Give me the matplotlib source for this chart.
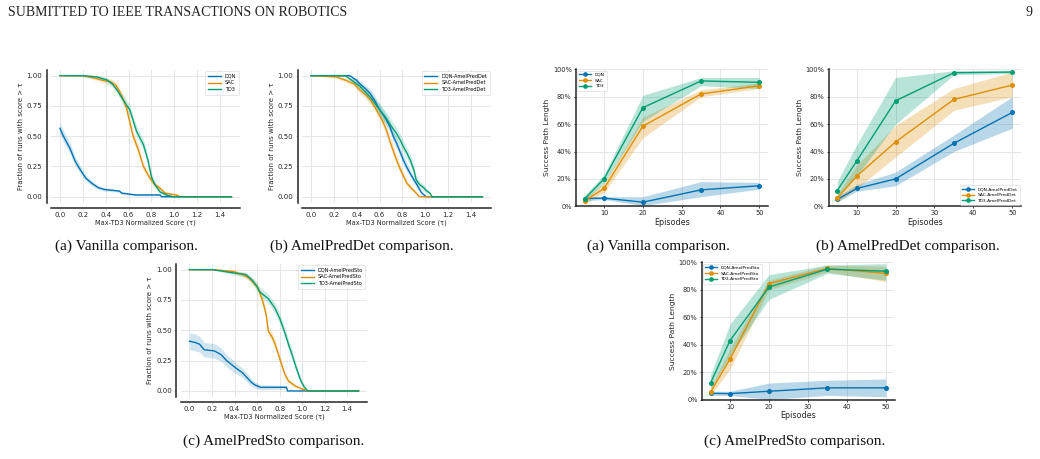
import matplotlib
matplotlib.use("Agg")
import matplotlib.pyplot as plt
from matplotlib.ticker import PercentFormatter

W, H = 1040, 459
fig = plt.figure(figsize=(W / 100, H / 100), dpi=100)
fig.patch.set_facecolor("white")

C_BLUE, C_ORANGE, C_GREEN = "#0173b2", "#de8f05", "#029e73"

# ---------------- Performance profile data ----------------
tau_van_dqn = [0.0, 0.03, 0.087, 0.13, 0.16, 0.20, 0.23, 0.28, 0.335, 0.39, 0.52, 0.54, 0.66, 0.875, 0.89, 1.5]
val_van_dqn = [0.565, 0.50, 0.40, 0.30, 0.25, 0.19, 0.15, 0.11, 0.075, 0.06, 0.047, 0.03, 0.015, 0.015, 0.0, 0.0]
ci_van_dqn = [0.05, 0.05, 0.045, 0.04, 0.035, 0.03, 0.025, 0.02, 0.015, 0.015, 0.01, 0.01, 0.008, 0.008, 0.0, 0.0]
tau_van_sac = [0.0, 0.20, 0.30, 0.38, 0.44, 0.49, 0.52, 0.55, 0.58, 0.61, 0.64, 0.685, 0.73, 0.77, 0.82, 0.875, 0.92, 0.98, 1.02, 1.05, 1.5]
val_van_sac = [1.0, 1.0, 0.98, 0.96, 0.95, 0.92, 0.87, 0.81, 0.74, 0.62, 0.50, 0.39, 0.25, 0.18, 0.11, 0.07, 0.03, 0.02, 0.015, 0.0, 0.0]
ci_van_sac = [0.0, 0.005, 0.015, 0.02, 0.025, 0.03, 0.035, 0.04, 0.04, 0.045, 0.045, 0.04, 0.035, 0.03, 0.025, 0.02, 0.015, 0.01, 0.008, 0.0, 0.0]
tau_van_td3 = [0.0, 0.20, 0.32, 0.41, 0.46, 0.50, 0.54, 0.58, 0.61, 0.67, 0.73, 0.77, 0.80, 0.83, 0.875, 0.93, 0.99, 1.5]
val_van_td3 = [1.0, 1.0, 0.99, 0.965, 0.93, 0.88, 0.82, 0.76, 0.72, 0.54, 0.43, 0.30, 0.165, 0.10, 0.04, 0.015, 0.0, 0.0]
ci_van_td3 = [0.0, 0.01, 0.015, 0.02, 0.025, 0.03, 0.035, 0.04, 0.04, 0.045, 0.045, 0.04, 0.035, 0.025, 0.015, 0.01, 0.0, 0.0]

tau_det_dqn = [0.0, 0.34, 0.40, 0.43, 0.48, 0.52, 0.56, 0.60, 0.65, 0.69, 0.72, 0.75, 0.78, 0.81, 0.84, 0.87, 0.90, 0.92, 0.95, 0.97, 1.01, 1.5]
val_det_dqn = [1.0, 1.0, 0.96, 0.93, 0.89, 0.85, 0.79, 0.72, 0.65, 0.58, 0.50, 0.44, 0.37, 0.30, 0.24, 0.19, 0.14, 0.11, 0.06, 0.03, 0.0, 0.0]
ci_det_dqn = [0.0, 0.005, 0.02, 0.025, 0.03, 0.035, 0.04, 0.045, 0.045, 0.045, 0.045, 0.045, 0.04, 0.04, 0.035, 0.03, 0.025, 0.02, 0.015, 0.01, 0.0, 0.0]
tau_det_sac = [0.0, 0.22, 0.31, 0.38, 0.43, 0.48, 0.52, 0.56, 0.60, 0.63, 0.66, 0.69, 0.72, 0.75, 0.78, 0.81, 0.84, 0.87, 0.92, 0.95, 1.5]
val_det_sac = [1.0, 0.99, 0.96, 0.93, 0.88, 0.84, 0.80, 0.74, 0.67, 0.62, 0.55, 0.46, 0.38, 0.30, 0.23, 0.17, 0.11, 0.08, 0.03, 0.0, 0.0]
ci_det_sac = [0.0, 0.01, 0.02, 0.025, 0.03, 0.035, 0.04, 0.04, 0.045, 0.045, 0.045, 0.045, 0.04, 0.04, 0.035, 0.03, 0.025, 0.02, 0.01, 0.0, 0.0]
tau_det_td3 = [0.0, 0.30, 0.36, 0.43, 0.48, 0.52, 0.56, 0.60, 0.65, 0.69, 0.72, 0.75, 0.78, 0.81, 0.84, 0.87, 0.90, 0.92, 0.95, 0.98, 1.01, 1.04, 1.06, 1.5]
val_det_td3 = [1.0, 1.0, 0.96, 0.91, 0.86, 0.82, 0.77, 0.72, 0.66, 0.60, 0.56, 0.52, 0.47, 0.41, 0.36, 0.30, 0.22, 0.14, 0.10, 0.08, 0.05, 0.03, 0.0, 0.0]
ci_det_td3 = [0.0, 0.005, 0.02, 0.03, 0.035, 0.04, 0.045, 0.05, 0.05, 0.05, 0.05, 0.05, 0.05, 0.05, 0.045, 0.045, 0.04, 0.035, 0.03, 0.025, 0.02, 0.015, 0.0, 0.0]

tau_sto_dqn = [0.0, 0.05, 0.09, 0.13, 0.22, 0.28, 0.33, 0.37, 0.41, 0.47, 0.52, 0.55, 0.58, 0.63, 0.86, 0.87, 1.5]
val_sto_dqn = [0.41, 0.40, 0.385, 0.34, 0.33, 0.30, 0.25, 0.22, 0.19, 0.15, 0.10, 0.07, 0.05, 0.03, 0.03, 0.0, 0.0]
ci_sto_dqn = [0.07, 0.07, 0.065, 0.06, 0.06, 0.055, 0.05, 0.05, 0.045, 0.04, 0.035, 0.03, 0.025, 0.02, 0.015, 0.0, 0.0]
tau_sto_sac = [0.0, 0.21, 0.39, 0.47, 0.53, 0.56, 0.60, 0.62, 0.65, 0.68, 0.70, 0.73, 0.75, 0.79, 0.82, 0.85, 0.88, 0.94, 0.99, 1.05, 1.5]
val_sto_sac = [1.0, 1.0, 0.985, 0.96, 0.93, 0.90, 0.86, 0.82, 0.74, 0.63, 0.49, 0.45, 0.41, 0.30, 0.21, 0.13, 0.08, 0.04, 0.02, 0.0, 0.0]
ci_sto_sac = [0.0, 0.005, 0.015, 0.02, 0.025, 0.03, 0.035, 0.04, 0.04, 0.04, 0.04, 0.04, 0.04, 0.035, 0.03, 0.025, 0.02, 0.015, 0.01, 0.0, 0.0]
tau_sto_td3 = [0.0, 0.21, 0.41, 0.50, 0.56, 0.60, 0.62, 0.66, 0.70, 0.76, 0.80, 0.82, 0.85, 0.88, 0.91, 0.94, 0.97, 0.99, 1.02, 1.05, 1.5]
val_sto_td3 = [1.0, 1.0, 0.97, 0.96, 0.91, 0.86, 0.82, 0.79, 0.76, 0.68, 0.60, 0.55, 0.47, 0.38, 0.30, 0.21, 0.13, 0.08, 0.03, 0.0, 0.0]
ci_sto_td3 = [0.0, 0.005, 0.015, 0.02, 0.025, 0.03, 0.035, 0.04, 0.04, 0.045, 0.045, 0.045, 0.045, 0.045, 0.04, 0.035, 0.03, 0.025, 0.015, 0.0, 0.0]

# ---------------- Success path length data ----------------
episodes = [5, 10, 20, 35, 50]
van_dqn = [5.6, 6.0, 3.0, 12.0, 15.0]
van_dqn_lo = [4.0, 5.0, 0.5, 7.0, 12.5]
van_dqn_hi = [7.0, 7.0, 7.0, 18.0, 17.5]
van_sac = [4.0, 13.0, 58.5, 82.0, 88.0]
van_sac_lo = [2.0, 10.0, 50.0, 80.0, 86.0]
van_sac_hi = [6.0, 17.0, 65.0, 85.0, 90.0]
van_td3 = [5.5, 20.0, 72.0, 91.5, 90.5]
van_td3_lo = [4.0, 17.0, 62.0, 88.0, 86.0]
van_td3_hi = [8.0, 23.0, 81.0, 94.0, 94.0]

det_dqn = [5.0, 13.0, 20.0, 46.0, 68.5]
det_dqn_lo = [3.0, 11.0, 15.0, 40.0, 57.0]
det_dqn_hi = [7.0, 16.0, 25.0, 52.0, 80.0]
det_sac = [6.0, 22.0, 47.0, 78.0, 88.5]
det_sac_lo = [3.0, 13.0, 36.0, 70.0, 80.0]
det_sac_hi = [9.0, 30.0, 59.0, 86.0, 98.0]
det_td3 = [11.5, 33.0, 77.0, 97.5, 98.0]
det_td3_lo = [6.0, 22.0, 60.0, 96.0, 97.0]
det_td3_hi = [18.0, 45.0, 94.0, 99.0, 99.0]

sto_dqn = [4.5, 4.3, 6.0, 8.5, 8.5]
sto_dqn_lo = [3.0, 3.0, 0.0, 3.0, 2.0]
sto_dqn_hi = [6.0, 6.0, 12.0, 14.0, 15.0]
sto_sac = [5.5, 29.5, 84.5, 95.5, 92.0]
sto_sac_lo = [3.0, 22.0, 80.0, 93.0, 86.0]
sto_sac_hi = [9.0, 37.0, 87.0, 98.0, 97.0]
sto_td3 = [12.0, 43.0, 82.0, 95.0, 93.5]
sto_td3_lo = [8.0, 32.0, 73.0, 92.0, 87.0]
sto_td3_hi = [18.0, 55.0, 91.0, 98.0, 99.0]

profile_xticks = [0.0, 0.2, 0.4, 0.6, 0.8, 1.0, 1.2, 1.4]
profile_yticks = [0.0, 0.25, 0.5, 0.75, 1.0]
ep_xticks = [10, 20, 30, 40, 50]
ep_yticks = [0, 20, 40, 60, 80, 100]

GRID = "#e6e6e6"


def add_px_axes(left, top, right, bottom):
    return fig.add_axes([left / W, 1 - bottom / H, (right - left) / W, (bottom - top) / H])


def style_common(ax):
    ax.set_facecolor("white")
    for s in ["top", "right"]:
        ax.spines[s].set_visible(False)
    for s in ["left", "bottom"]:
        ax.spines[s].set_color("#262626")
        ax.spines[s].set_linewidth(1.1)
    ax.grid(True, color=GRID, linewidth=0.7)
    ax.set_axisbelow(True)


def profile_axes(rect, curves, labels):
    ax = add_px_axes(*rect)
    style_common(ax)
    ax.spines["left"].set_position(("outward", 3.5))
    ax.spines["bottom"].set_position(("outward", 3.5))
    for (t, v, c), lab, col in zip(curves, labels, [C_BLUE, C_ORANGE, C_GREEN]):
        lo = [a - b for a, b in zip(v, c)]
        hi = [min(1.0, a + b) for a, b in zip(v, c)]
        ax.fill_between(t, lo, hi, color=col, alpha=0.18, linewidth=0)
        ax.plot(t, v, color=col, linewidth=1.0, label=lab)
    ax.set_xlim(-0.075, 1.575)
    ax.set_ylim(-0.05, 1.05)
    ax.set_xticks(profile_xticks)
    ax.set_xticklabels([f"{x:.1f}" for x in profile_xticks])
    ax.set_yticks(profile_yticks)
    ax.set_yticklabels([f"{y:.2f}" for y in profile_yticks])
    ax.tick_params(axis="both", labelsize=5, length=1.5, width=0.5, color="#bbbbbb", pad=1.5, labelcolor="#262626")
    ax.set_xlabel("Max-TD3 Normalized Score (τ)", fontsize=4.8, labelpad=1, color="#262626")
    ax.set_ylabel("Fraction of runs with score > τ", fontsize=5, labelpad=2, color="#262626")
    leg = ax.legend(loc="upper right", fontsize=3.6, frameon=True, borderaxespad=0.3,
                    handlelength=2.6, labelspacing=0.35, borderpad=0.5, fancybox=True)
    leg.get_frame().set_linewidth(0.4)
    leg.get_frame().set_edgecolor("#cccccc")
    return ax


def success_axes(rect, series, labels, loc):
    ax = add_px_axes(*rect)
    style_common(ax)
    for (m, lo, hi), lab, col in zip(series, labels, [C_BLUE, C_ORANGE, C_GREEN]):
        ax.fill_between(episodes, [x / 100 for x in lo], [x / 100 for x in hi], color=col, alpha=0.28, linewidth=0)
        ax.plot(episodes, [x / 100 for x in m], color=col, linewidth=1.0, marker="o", markersize=2.6, label=lab)
    ax.set_xlim(2.75, 52.25)
    ax.set_ylim(0, 1.0)
    ax.set_xticks(ep_xticks)
    ax.set_yticks([y / 100 for y in ep_yticks])
    ax.yaxis.set_major_formatter(PercentFormatter(1.0, decimals=0))
    ax.tick_params(axis="both", labelsize=4.8, length=1.5, width=0.6, color="#262626", pad=1.5, labelcolor="#262626")
    ax.set_xlabel("Episodes", fontsize=5.8, labelpad=1, color="#262626")
    ax.set_ylabel("Success Path Length", fontsize=5.4, labelpad=2, color="#262626")
    leg = ax.legend(loc=loc, fontsize=3.2, frameon=True, borderaxespad=0.3,
                    handlelength=2.6, labelspacing=0.35, borderpad=0.5, fancybox=True, markerscale=0.9)
    leg.get_frame().set_linewidth(0.4)
    leg.get_frame().set_edgecolor("#cccccc")
    return ax


# Left: performance profiles
profile_axes((51.4, 69.6, 240.0, 202.8),
             [(tau_van_dqn, val_van_dqn, ci_van_dqn), (tau_van_sac, val_van_sac, ci_van_sac),
              (tau_van_td3, val_van_td3, ci_van_td3)],
             ["DQN", "SAC", "TD3"])
profile_axes((302.4, 69.6, 491.0, 202.8),
             [(tau_det_dqn, val_det_dqn, ci_det_dqn), (tau_det_sac, val_det_sac, ci_det_sac),
              (tau_det_td3, val_det_td3, ci_det_td3)],
             ["DQN-AmelPredDet", "SAC-AmelPredDet", "TD3-AmelPredDet"])
profile_axes((181.0, 263.6, 367.0, 397.0),
             [(tau_sto_dqn, val_sto_dqn, ci_sto_dqn), (tau_sto_sac, val_sto_sac, ci_sto_sac),
              (tau_sto_td3, val_sto_td3, ci_sto_td3)],
             ["DQN-AmelPredSto", "SAC-AmelPredSto", "TD3-AmelPredSto"])

# Right: success path length
success_axes((575.9, 69.3, 768.0, 206.3),
             [(van_dqn, van_dqn_lo, van_dqn_hi), (van_sac, van_sac_lo, van_sac_hi), (van_td3, van_td3_lo, van_td3_hi)],
             ["DQN", "SAC", "TD3"], "upper left")
success_axes((828.5, 69.3, 1021.0, 206.3),
             [(det_dqn, det_dqn_lo, det_dqn_hi), (det_sac, det_sac_lo, det_sac_hi), (det_td3, det_td3_lo, det_td3_hi)],
             ["DQN-AmelPredDet", "SAC-AmelPredDet", "TD3-AmelPredDet"], "lower right")
success_axes((701.8, 262.3, 894.5, 399.5),
             [(sto_dqn, sto_dqn_lo, sto_dqn_hi), (sto_sac, sto_sac_lo, sto_sac_hi), (sto_td3, sto_td3_lo, sto_td3_hi)],
             ["DQN-AmelPredSto", "SAC-AmelPredSto", "TD3-AmelPredSto"], "upper left")

# Page text
SERIF = ["Liberation Serif", "DejaVu Serif"]
fig.text(8 / W, 1 - 12 / H, "SUBMITTED TO IEEE TRANSACTIONS ON ROBOTICS", family=SERIF, fontsize=10,
         ha="left", va="center", color="#222222")
fig.text(1032 / W, 1 - 12 / H, "9", family=SERIF, fontsize=10, ha="right", va="center", color="#222222")

captions = [
    (126, 246, "(a) Vanilla comparison."),
    (362, 246, "(b) AmelPredDet comparison."),
    (658, 246, "(a) Vanilla comparison."),
    (908, 246, "(b) AmelPredDet comparison."),
    (274, 441, "(c) AmelPredSto comparison."),
    (795, 441, "(c) AmelPredSto comparison."),
]
for x, y, t in captions:
    fig.text(x / W, 1 - y / H, t, family=SERIF, fontsize=11, ha="center", va="center", color="#111111")

fig.savefig("out.png", dpi=100, facecolor="white")
